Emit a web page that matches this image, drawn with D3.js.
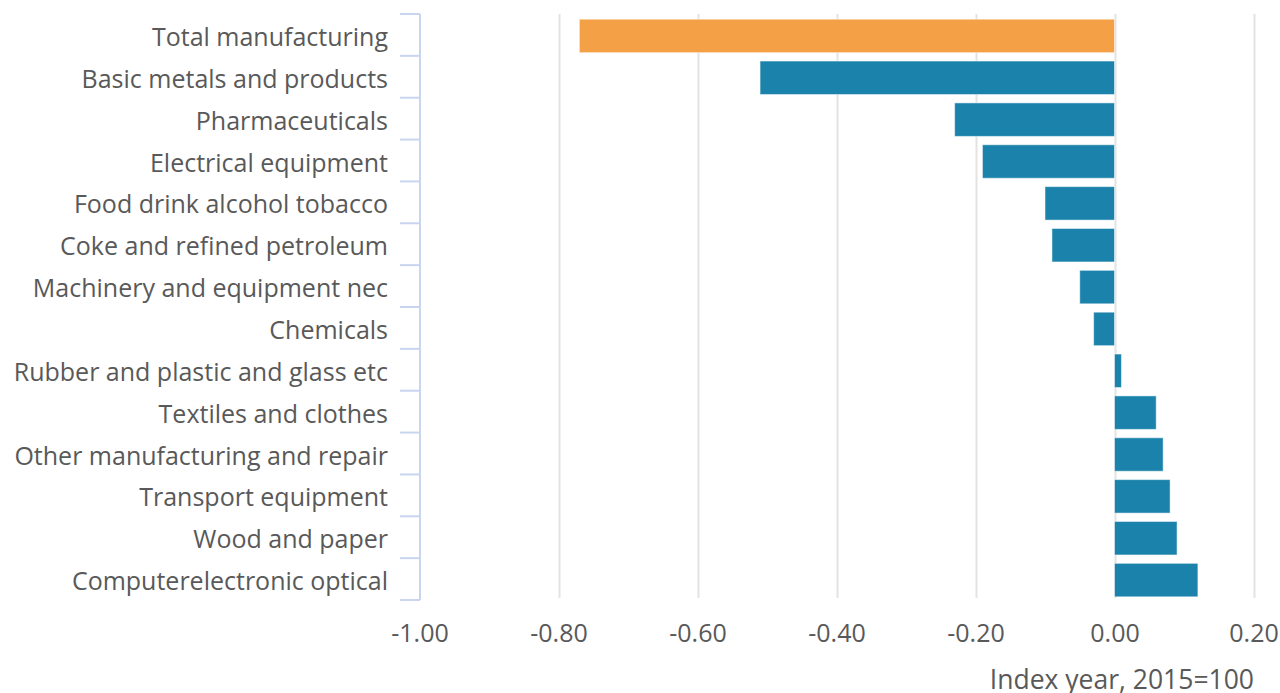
<!DOCTYPE html>
<html><head><meta charset="utf-8">
<script src="https://cdn.jsdelivr.net/npm/d3@7"></script>
<style>body{margin:0;background:#fff;}svg{display:block;font-family:"Open Sans",sans-serif;}</style>
</head><body><svg id="c" width="1280" height="693"></svg>
<script>
const categories = ["Total manufacturing","Basic metals and products","Pharmaceuticals","Electrical equipment","Food drink alcohol tobacco","Coke and refined petroleum","Machinery and equipment nec","Chemicals","Rubber and plastic and glass etc","Textiles and clothes","Other manufacturing and repair","Transport equipment","Wood and paper","Computerelectronic optical"];
const values = [-0.77,-0.51,-0.23,-0.19,-0.10,-0.09,-0.05,-0.03,0.01,0.06,0.07,0.08,0.09,0.12];
const tickValues = [-1.0,-0.8,-0.6,-0.4,-0.2,0.0,0.2];
const axisTitle = "Index year, 2015=100";

const svg = d3.select("#c");
const x = d3.scaleLinear().domain([-1,0.2]).range([419.5,1253.5]);
const y = d3.scaleBand().domain(categories).range([14,600]).paddingInner(0.2).paddingOuter(0.1);
const fmt = d3.formatLocale({decimal:".",thousands:",",grouping:[3],currency:["",""],minus:"-"}).format(".2f");

// gridlines
svg.append("g").selectAll("line").data(tickValues.filter(d=>d>-1)).join("line")
  .attr("x1",d=>Math.round(x(d))+0.5).attr("x2",d=>Math.round(x(d))+0.5)
  .attr("y1",14).attr("y2",598).attr("stroke","#e3e3e3").attr("stroke-width",2);

// bars
svg.append("g").selectAll("rect").data(values).join("rect")
  .attr("x",(d)=>x(Math.min(0,d)))
  .attr("width",d=>Math.abs(x(d)-x(0)))
  .attr("y",(d,i)=>y(categories[i])+1)
  .attr("height",y.bandwidth())
  .attr("fill",(d,i)=>i===0?"#F4A047":"#1B83AB")
  .attr("stroke","#ffffff").attr("stroke-opacity",0.5).attr("stroke-width",1);

// y axis
const yAxis = svg.append("g").attr("transform","translate(420,3)")
  .call(d3.axisLeft(y).tickSize(0).tickPadding(32));
yAxis.select(".domain").remove();
yAxis.selectAll("text").attr("font-size",25).attr("fill","#595959").attr("font-family","'Open Sans',sans-serif");
// axis line and category boundary ticks
const bounds = d3.range(categories.length+1).map(i=>14+i*(586/categories.length));
svg.append("line").attr("x1",420).attr("x2",420).attr("y1",14).attr("y2",600).attr("stroke","#C9D5EE").attr("stroke-width",2);
svg.append("g").selectAll("line").data(bounds).join("line")
  .attr("x1",400).attr("x2",420).attr("y1",d=>d).attr("y2",d=>d)
  .attr("stroke","#C9D5EE").attr("stroke-width",2);

// x axis
const xAxis = svg.append("g").attr("transform","translate(0,600)")
  .call(d3.axisBottom(x).tickValues(tickValues).tickSize(0).tickPadding(24).tickFormat(fmt));
xAxis.select(".domain").remove();
xAxis.selectAll("text").attr("font-size",25).attr("fill","#595959").attr("font-family","'Open Sans',sans-serif");

svg.append("text").attr("x",1254).attr("y",689).attr("text-anchor","end")
  .attr("font-size",26.5).attr("fill","#595959").text(axisTitle);
</script></body></html>
